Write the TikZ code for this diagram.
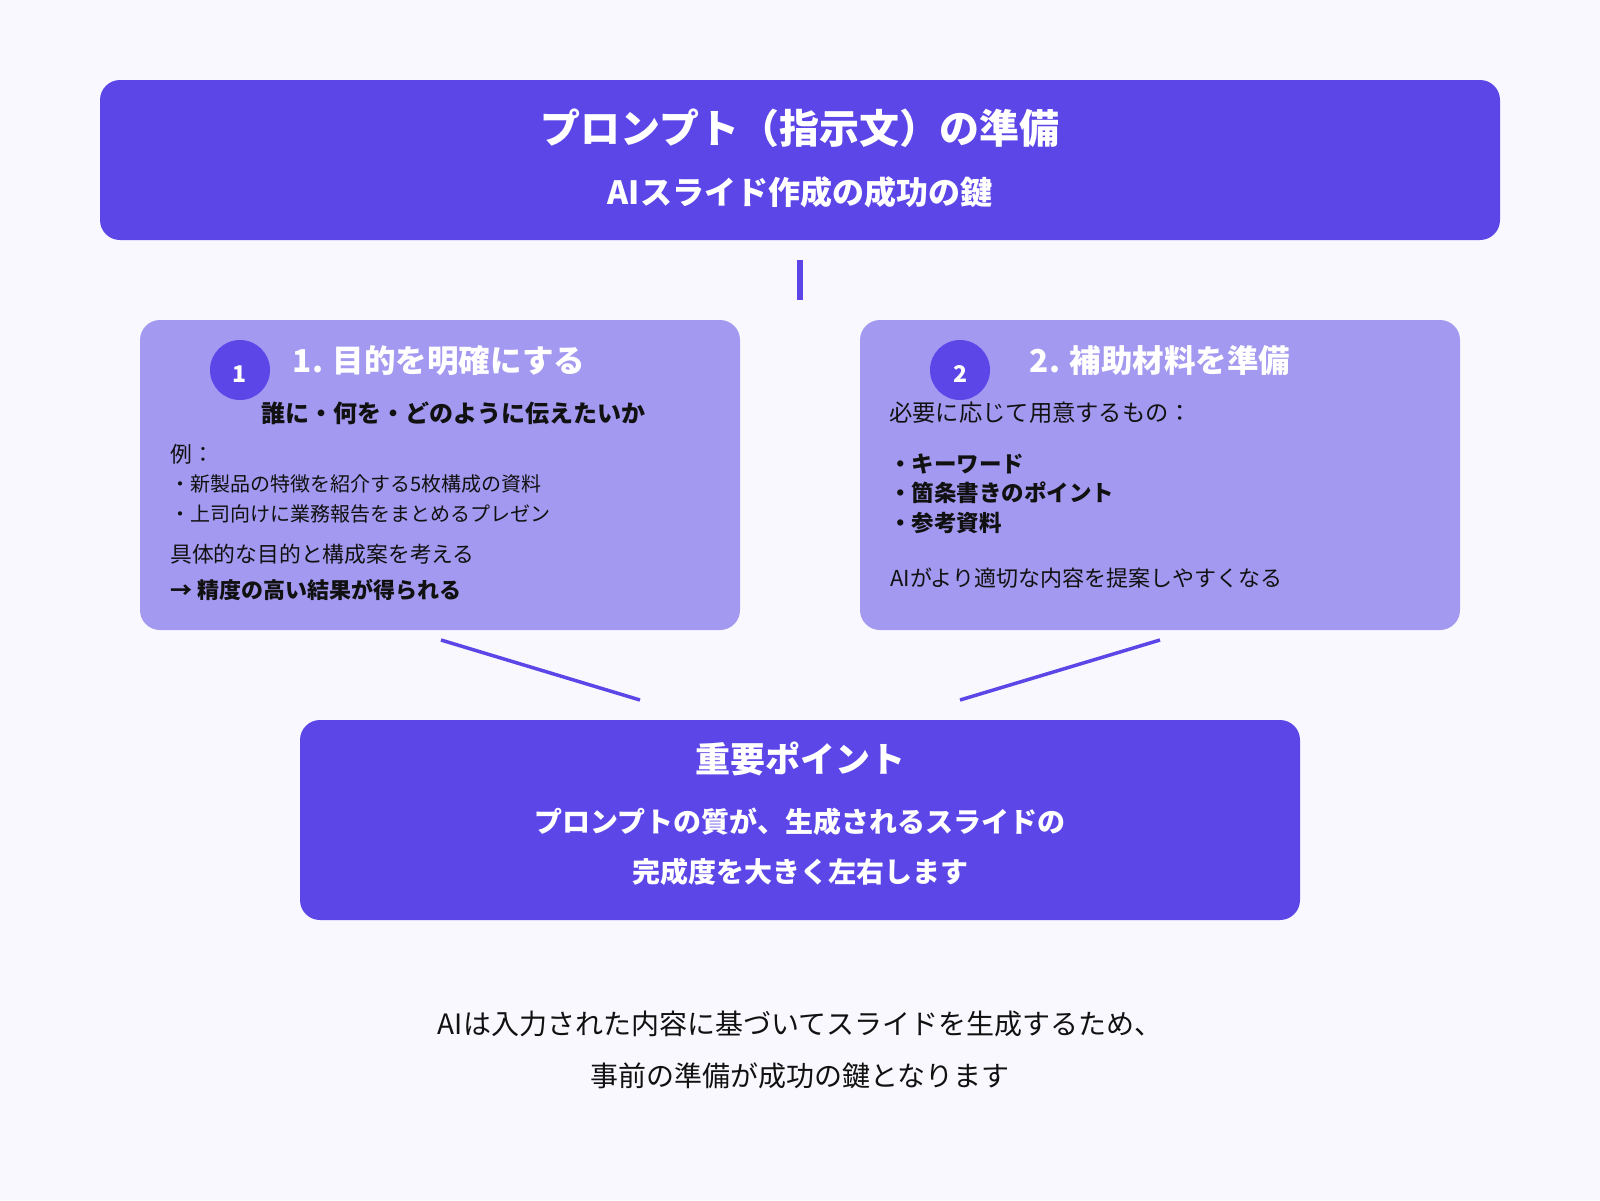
\documentclass[tikz,border=0pt]{standalone}
\usepackage{fontspec}
\setmainfont{Noto Sans CJK JP}
\definecolor{bgc}{HTML}{F8F8FE}
\definecolor{dark}{HTML}{5C46E8}
\definecolor{light}{HTML}{A499F0}
\definecolor{ink}{HTML}{111111}
\tikzset{
  darkbox/.style={fill=dark, draw=none, rounded corners=20pt, inner sep=0pt},
  lightbox/.style={fill=light, draw=none, rounded corners=20pt, inner sep=0pt},
  numcircle/.style={circle, fill=dark, draw=none, minimum size=60pt, inner sep=0pt},
  numtxt/.style={inner sep=0pt, text=white, font=\fontsize{23}{27}\selectfont\bfseries},
  txt/.style={inner sep=0pt, text=ink},
  wtxt/.style={inner sep=0pt, text=white},
  conn/.style={draw=dark, line width=3.5pt},
  vconn/.style={draw=dark, line width=6pt},
}
\begin{document}
\begin{tikzpicture}[x=1pt,y=-1pt]
\useasboundingbox (0,0) rectangle (1600,1200);
\fill[bgc] (0,0) rectangle (1600,1200);

% top box
\node[darkbox, minimum width=1400pt, minimum height=160pt] (top) at (800,160) {};
\node[wtxt, font=\fontsize{40}{46}\selectfont\bfseries] (title) at (800,128) {プロンプト（指示文）の準備};
\node[wtxt, font=\fontsize{32}{38}\selectfont\bfseries] (subtitle) at (800,192) {AIスライド作成の成功の鍵};

% vertical connector
\coordinate (v1) at (800,260);
\coordinate (v2) at (800,300);
\draw[vconn] (v1) -- (v2);

% left box
\node[lightbox, minimum width=600pt, minimum height=310pt] (left) at (440,475) {};
\node[numcircle] (c1) at (240,370) {};
\node[numtxt] (n1) at (240,374) {1};
\node[wtxt, font=\fontsize{31.5}{38}\selectfont\bfseries] (lh) at (439,361) {1. 目的を明確にする};
\node[txt, font=\fontsize{24}{28}\selectfont\bfseries] (l1) at (453,413) {誰に・何を・どのように伝えたいか};
\node[txt, anchor=west, font=\fontsize{21.8}{26}\selectfont] (l2) at (170,454) {例：};
\node[txt, anchor=west, font=\fontsize{20}{24}\selectfont] (l3) at (170,484) {・新製品の特徴を紹介する5枚構成の資料};
\node[txt, anchor=west, font=\fontsize{20}{24}\selectfont] (l4) at (170,514) {・上司向けに業務報告をまとめるプレゼン};
\node[txt, anchor=west, font=\fontsize{21.8}{26}\selectfont] (l5) at (170,554) {具体的な目的と構成案を考える};
\node[txt, anchor=west, font=\fontsize{22}{26}\selectfont\bfseries] (l6) at (170,590) {→ 精度の高い結果が得られる};

% right box
\node[lightbox, minimum width=600pt, minimum height=310pt] (right) at (1160,475) {};
\node[numcircle] (c2) at (960,370) {};
\node[numtxt] (n2) at (960,374) {2};
\node[wtxt, font=\fontsize{31.5}{38}\selectfont\bfseries] (rh) at (1160,361) {2. 補助材料を準備};
\node[txt, anchor=west, font=\fontsize{23.3}{28}\selectfont] (r1) at (889,413) {必要に応じて用意するもの：};
\node[txt, anchor=west, font=\fontsize{22.5}{27}\selectfont\bfseries] (r2) at (889,464) {・キーワード};
\node[txt, anchor=west, font=\fontsize{22.5}{27}\selectfont\bfseries] (r3) at (889,493) {・箇条書きのポイント};
\node[txt, anchor=west, font=\fontsize{22.5}{27}\selectfont\bfseries] (r4) at (889,523) {・参考資料};
\node[txt, anchor=west, font=\fontsize{22}{26}\selectfont] (r5) at (890,578) {AIがより適切な内容を提案しやすくなる};

% diagonal connectors
\coordinate (a1) at (441,640);
\coordinate (a2) at (640,700);
\coordinate (b1) at (1160,640);
\coordinate (b2) at (960,700);
\draw[conn] (a1) -- (a2);
\draw[conn] (b1) -- (b2);

% bottom box
\node[darkbox, minimum width=1000pt, minimum height=200pt] (bottom) at (800,820) {};
\node[wtxt, font=\fontsize{35}{42}\selectfont\bfseries] (bh) at (800,759) {重要ポイント};
\node[wtxt, font=\fontsize{28}{34}\selectfont\bfseries] (b1t) at (800,822) {プロンプトの質が、生成されるスライドの};
\node[wtxt, font=\fontsize{28}{34}\selectfont\bfseries] (b2t) at (800,872) {完成度を大きく左右します};

% footer
\node[txt, font=\fontsize{28}{34}\selectfont] (f1) at (800,1024) {AIは入力された内容に基づいてスライドを生成するため、};
\node[txt, font=\fontsize{28}{34}\selectfont] (f2) at (800,1076) {事前の準備が成功の鍵となります};
\end{tikzpicture}
\end{document}
